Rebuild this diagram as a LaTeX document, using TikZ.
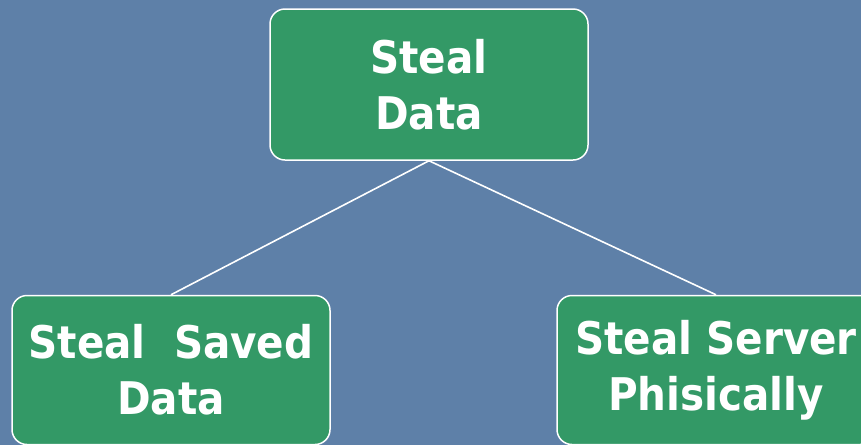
\documentclass[tikz,border=0pt]{standalone}
\usepackage{fontspec}
\newfontfamily\boxfont[FakeStretch=0.9]{DejaVu Sans Bold}
\definecolor{bgblue}{RGB}{94,128,168}
\definecolor{boxgreen}{RGB}{51,153,102}
\tikzset{
  leaf/.style={draw=white, line width=1.5pt, fill=boxgreen, rounded corners=15pt,
    minimum width=318pt, minimum height=150pt, inner sep=0pt, align=center,
    text=white, font=\boxfont\fontsize{45}{56}\selectfont},
  link/.style={draw=white, line width=1.6pt}
}
\begin{document}
\begin{tikzpicture}[x=1pt,y=-1pt]
\fill[bgblue] (0,0) rectangle (861,445);
\useasboundingbox (0,0) rectangle (861,445);
\begin{scope}
\clip (0,0) rectangle (861,445);
\node[leaf, minimum height=151pt] (top) at (429,84.5) {Steal\\Data};
\node[leaf, minimum height=149pt] (left) at (171,370) {Steal\ \ Saved\\Data};
\node[leaf, minimum height=149pt] (right) at (716,370) {Steal Server\\Phisically};
\draw[link] (top.south) -- (left.north);
\draw[link] (top.south) -- (right.north);
\end{scope}
\end{tikzpicture}
\end{document}
